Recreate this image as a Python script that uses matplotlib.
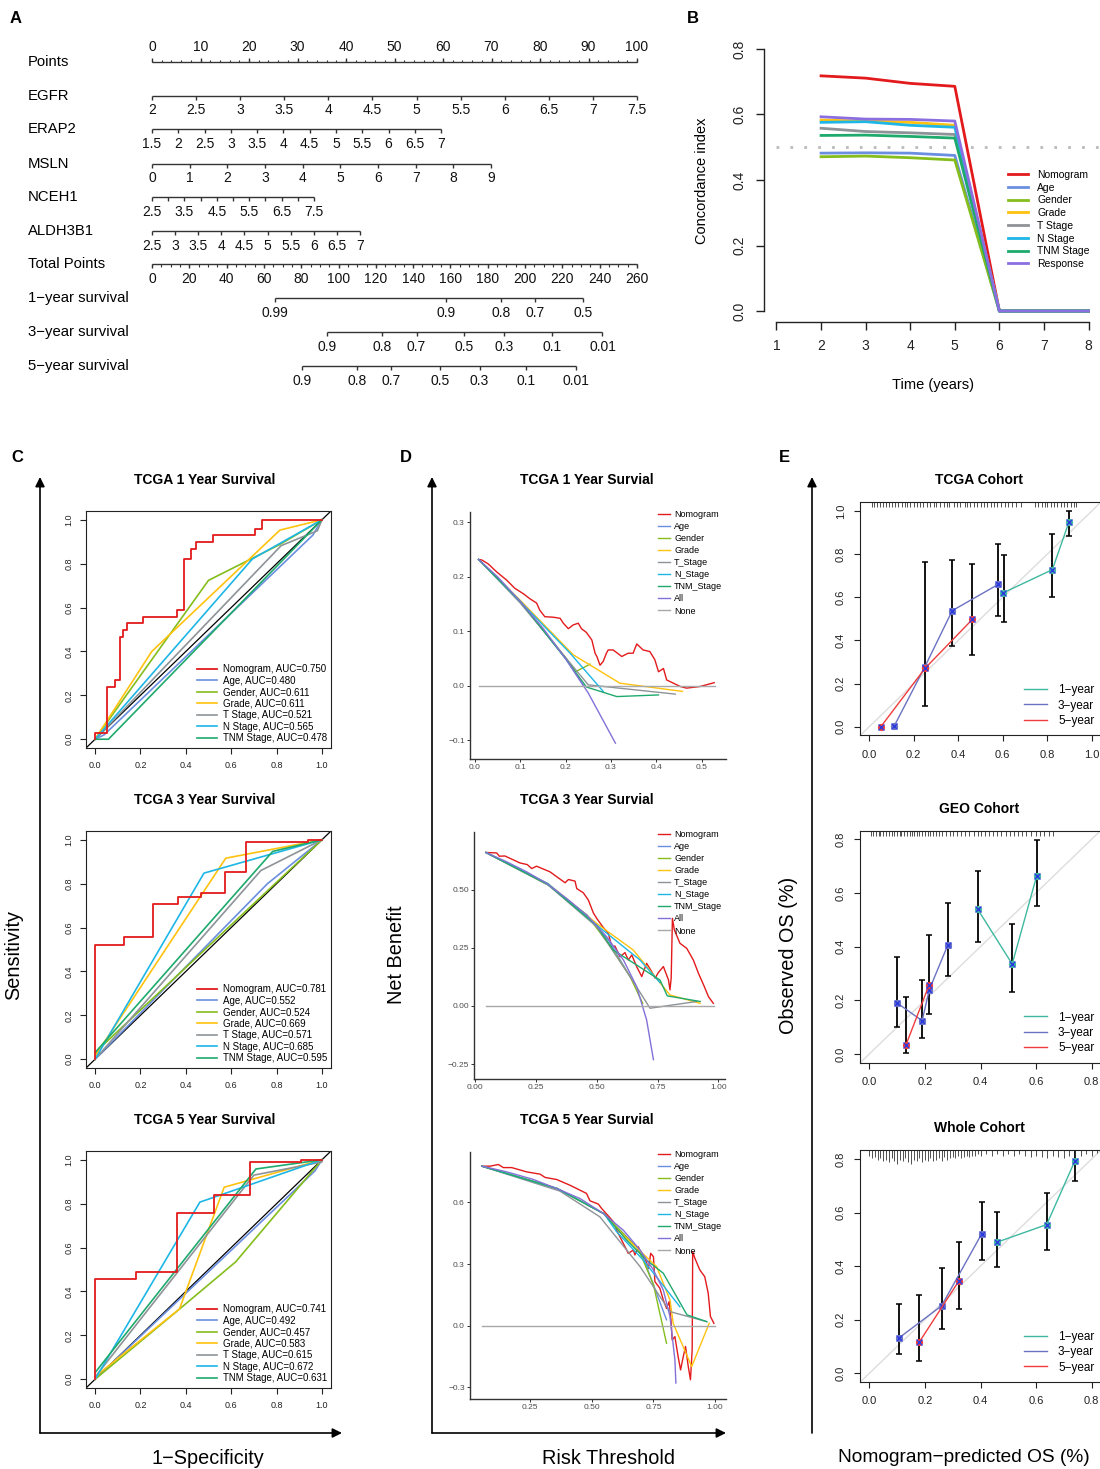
import numpy as np
import matplotlib
matplotlib.use('Agg')
import matplotlib.pyplot as plt
from matplotlib.lines import Line2D

plt.rcParams['font.family'] = ['Liberation Sans', 'DejaVu Sans']

W, H = 1100, 1469

# ---------------- A: nomogram ----------------
points_ticks = list(range(0, 101, 10))
points_minor = list(range(0, 101, 2))
gene_names = ['EGFR', 'ERAP2', 'MSLN', 'NCEH1', 'ALDH3B1']
egfr_vals = [2, 2.5, 3, 3.5, 4, 4.5, 5, 5.5, 6, 6.5, 7, 7.5]
erap2_vals = [1.5, 2, 2.5, 3, 3.5, 4, 4.5, 5, 5.5, 6, 6.5, 7]
msln_vals = [0, 1, 2, 3, 4, 5, 6, 7, 8, 9]
nceh1_vals = [2.5, 3, 3.5, 4, 4.5, 5, 5.5, 6, 6.5, 7, 7.5]
aldh3b1_vals = [2.5, 3, 3.5, 4, 4.5, 5, 5.5, 6, 6.5, 7]
gene_max_points = [100, 59.6, 69.9, 33.4, 42.9]
total_ticks = list(range(0, 261, 20))
total_minor = list(range(0, 261, 5))
surv_names = ['1\u2212year survival', '3\u2212year survival', '5\u2212year survival']
surv1_labels = ['0.99', '0.9', '0.8', '0.7', '0.5']
surv1_total = [65.8, 157.6, 186.9, 205.4, 230.9]
surv3_labels = ['0.9', '0.8', '0.7', '0.5', '0.3', '0.1', '0.01']
surv3_total = [94.0, 123.3, 141.8, 167.5, 188.7, 214.2, 241.5]
surv5_labels = ['0.9', '0.8', '0.7', '0.5', '0.3', '0.1', '0.01']
surv5_total = [80.4, 109.8, 128.2, 154.2, 175.6, 200.4, 227.5]

# ---------------- B: C-index over time ----------------
b_years = [2, 3, 4, 5, 6, 7, 8]
b_names = ['Nomogram', 'Age', 'Gender', 'Grade', 'T Stage', 'N Stage', 'TNM Stage', 'Response']
b_nomogram = [0.718, 0.711, 0.695, 0.686, 0, 0, 0]
b_age = [0.482, 0.483, 0.482, 0.475, 0, 0, 0]
b_gender = [0.471, 0.473, 0.468, 0.461, 0, 0, 0]
b_grade = [0.583, 0.580, 0.576, 0.567, 0, 0, 0]
b_tstage = [0.558, 0.548, 0.544, 0.539, 0, 0, 0]
b_nstage = [0.576, 0.578, 0.567, 0.561, 0, 0, 0]
b_tnm = [0.536, 0.537, 0.533, 0.528, 0, 0, 0]
b_response = [0.593, 0.586, 0.585, 0.580, 0, 0, 0]

RED = '#E31A1C'
b_colors = [RED, '#6A8FE0', '#84BD1C', '#FFC20E', '#8E9398', '#1DB6E6', '#1EAA6C', '#8B6FE0']

# ---------------- C: ROC ----------------
roc_names = ['Nomogram', 'Age', 'Gender', 'Grade', 'T Stage', 'N Stage', 'TNM Stage']
c1_auc = ['0.750', '0.480', '0.611', '0.611', '0.521', '0.565', '0.478']
c2_auc = ['0.781', '0.552', '0.524', '0.669', '0.571', '0.685', '0.595']
c3_auc = ['0.741', '0.492', '0.457', '0.583', '0.615', '0.672', '0.631']

c1_nomo_fpr = [0, 0, 0.052, 0.089, 0.108, 0.123, 0.14, 0.21, 0.359, 0.391, 0.421, 0.443, 0.521, 0.706, 0.736, 1.0]
c1_nomo_tpr = [0, 0.03, 0.237, 0.271, 0.468, 0.498, 0.528, 0.558, 0.591, 0.822, 0.867, 0.897, 0.931, 0.958, 1.0, 1.0]
c1_others = [
    [(0, 0), (0.04, 0.02), (0.96, 0.93), (1, 1)],
    [(0, 0), (0.02, 0.03), (0.5, 0.724), (0.81, 0.885), (1, 1)],
    [(0, 0), (0.25, 0.40), (0.815, 0.953), (1, 1)],
    [(0, 0), (0.02, 0.02), (0.82, 0.882), (0.98, 0.95), (1, 1)],
    [(0, 0), (0.694, 0.822), (1, 1)],
    [(0, 0), (0.059, 0), (1, 1)],
]
c2_nomo_fpr = [0, 0, 0.126, 0.254, 0.366, 0.468, 0.572, 0.665, 0.938, 1.0]
c2_nomo_tpr = [0, 0.52, 0.555, 0.707, 0.738, 0.759, 0.852, 0.988, 1.0, 1.0]
c2_others = [
    [(0, 0), (0.76, 0.80), (1, 1)],
    [(0, 0), (0.01, 0.04), (1, 1)],
    [(0, 0), (0.01, 0.03), (0.576, 0.916), (1, 1)],
    [(0, 0), (0.731, 0.86), (1, 1)],
    [(0, 0), (0.48, 0.848), (1, 1)],
    [(0, 0.03), (0.783, 0.947), (1, 1)],
]
c3_nomo_fpr = [0, 0, 0.182, 0.362, 0.524, 0.684, 0.908, 1.0]
c3_nomo_tpr = [0, 0.457, 0.487, 0.757, 0.84, 0.991, 1.0, 1.0]
c3_others = [
    [(0, 0), (0.97, 0.95), (1, 1)],
    [(0, 0), (0.369, 0.317), (0.62, 0.535), (1, 1)],
    [(0, 0), (0.01, 0.02), (0.372, 0.32), (0.569, 0.875), (1, 1)],
    [(0, 0.01), (0.7, 0.93), (1, 0.99), (1, 1)],
    [(0, 0), (0.462, 0.807), (1, 1)],
    [(0, 0.03), (0.709, 0.958), (1, 1)],
]

# ---------------- D: decision curves ----------------
dca_names = ['Nomogram', 'Age', 'Gender', 'Grade', 'T_Stage', 'N_Stage', 'TNM_Stage', 'All', 'None']
dca_colors = [RED, '#6A8FE0', '#84BD1C', '#FFC20E', '#8E9398', '#1DB6E6', '#1EAA6C', '#8470D8', '#A8A8A8']

d1_curves = [
    [(0.008, 0.232), (0.015, 0.231), (0.029, 0.224), (0.048, 0.209), (0.07, 0.194), (0.088, 0.179),
     (0.107, 0.169), (0.121, 0.160), (0.136, 0.152), (0.143, 0.139), (0.154, 0.127), (0.173, 0.126),
     (0.188, 0.124), (0.195, 0.115), (0.206, 0.105), (0.217, 0.112), (0.228, 0.115), (0.235, 0.105),
     (0.246, 0.098), (0.258, 0.084), (0.265, 0.06), (0.269, 0.054), (0.276, 0.038), (0.283, 0.045),
     (0.29, 0.06), (0.294, 0.066), (0.305, 0.066), (0.324, 0.054), (0.338, 0.06), (0.349, 0.06),
     (0.357, 0.077), (0.371, 0.066), (0.386, 0.063), (0.397, 0.048), (0.405, 0.026), (0.416, 0.032),
     (0.423, 0.011), (0.438, 0.005), (0.453, -0.001), (0.467, -0.004), (0.497, -0.001), (0.528, 0.006)],
    [(0.008, 0.232), (0.1, 0.155), (0.2, 0.05), (0.24, 0.0)],
    [(0.008, 0.232), (0.1, 0.155), (0.2, 0.052), (0.222, 0.026), (0.254, 0.040)],
    [(0.008, 0.232), (0.1, 0.157), (0.217, 0.057), (0.32, 0.005), (0.458, -0.010)],
    [(0.008, 0.232), (0.1, 0.152), (0.2, 0.052), (0.25, 0.002), (0.442, -0.015)],
    [(0.008, 0.232), (0.1, 0.155), (0.21, 0.06), (0.283, -0.010)],
    [(0.008, 0.232), (0.1, 0.155), (0.2, 0.05), (0.246, -0.002), (0.313, -0.0195), (0.405, -0.0165)],
    [(0.008, 0.232), (0.05, 0.2), (0.1, 0.155), (0.15, 0.106), (0.2, 0.05), (0.25, -0.013), (0.31, -0.105)],
    [(0.008, 0.0), (0.53, 0.0)],
]
d2_curves = [
    [(0.045, 0.659), (0.089, 0.657), (0.1, 0.643), (0.123, 0.644), (0.185, 0.614), (0.215, 0.607),
     (0.233, 0.59), (0.253, 0.6), (0.308, 0.576), (0.37, 0.529), (0.384, 0.543), (0.411, 0.536),
     (0.418, 0.504), (0.445, 0.486), (0.466, 0.454), (0.486, 0.4), (0.5, 0.376), (0.527, 0.337),
     (0.548, 0.311), (0.562, 0.254), (0.575, 0.257), (0.596, 0.211), (0.616, 0.229), (0.63, 0.197),
     (0.644, 0.219), (0.664, 0.169), (0.685, 0.126), (0.705, 0.183), (0.726, 0.147), (0.74, 0.119),
     (0.753, 0.143), (0.774, 0.169), (0.795, 0.111), (0.801, 0.069), (0.806, 0.12), (0.811, 0.376),
     (0.819, 0.326), (0.842, 0.269), (0.87, 0.247), (0.897, 0.197), (0.918, 0.14), (0.942, 0.083),
     (0.959, 0.04), (0.979, 0.011)],
    [(0.045, 0.659), (0.3, 0.52), (0.46, 0.39), (0.55, 0.28), (0.64, 0.12)],
    [(0.045, 0.659), (0.3, 0.52), (0.46, 0.39), (0.56, 0.25), (0.637, 0.126), (0.689, 0.011)],
    [(0.045, 0.659), (0.3, 0.525), (0.5, 0.354), (0.65, 0.24), (0.801, 0.047), (0.925, 0.011)],
    [(0.045, 0.659), (0.3, 0.52), (0.5, 0.34), (0.637, 0.126), (0.719, -0.01), (0.911, 0.019)],
    [(0.045, 0.659), (0.3, 0.525), (0.5, 0.347), (0.678, 0.197), (0.76, 0.10)],
    [(0.045, 0.659), (0.3, 0.522), (0.5, 0.345), (0.568, 0.24), (0.76, 0.111), (0.79, 0.043), (0.925, 0.019)],
    [(0.045, 0.659), (0.13, 0.619), (0.212, 0.576), (0.295, 0.526), (0.377, 0.461), (0.459, 0.39),
     (0.541, 0.297), (0.61, 0.197), (0.664, 0.083), (0.705, -0.06), (0.733, -0.231)],
    [(0.045, 0.0), (0.98, 0.0)],
]
d3_curves = [
    [(0.055, 0.777), (0.088, 0.777), (0.122, 0.785), (0.142, 0.77), (0.176, 0.77), (0.237, 0.749),
     (0.291, 0.738), (0.311, 0.722), (0.358, 0.712), (0.412, 0.684), (0.479, 0.644), (0.493, 0.608),
     (0.527, 0.592), (0.54, 0.571), (0.561, 0.543), (0.588, 0.506), (0.601, 0.465), (0.621, 0.417),
     (0.635, 0.384), (0.648, 0.352), (0.669, 0.368), (0.675, 0.344), (0.689, 0.384), (0.703, 0.344),
     (0.716, 0.328), (0.73, 0.279), (0.739, 0.352), (0.75, 0.336), (0.756, 0.214), (0.776, 0.182),
     (0.79, 0.125), (0.803, 0.084), (0.814, 0.117), (0.821, 0.028), (0.826, -0.07), (0.837, -0.054),
     (0.85, -0.151), (0.86, -0.216), (0.871, -0.151), (0.88, -0.102), (0.891, -0.199), (0.9, -0.264),
     (0.907, -0.118), (0.909, 0.36), (0.918, 0.328), (0.938, 0.271), (0.958, 0.238), (0.972, 0.157),
     (0.981, 0.044), (0.995, 0.011)],
    [(0.055, 0.777), (0.36, 0.668), (0.55, 0.545), (0.7, 0.36), (0.803, 0.028)],
    [(0.055, 0.777), (0.36, 0.668), (0.55, 0.545), (0.69, 0.37), (0.75, 0.2), (0.803, -0.086)],
    [(0.055, 0.777), (0.36, 0.668), (0.55, 0.545), (0.621, 0.449), (0.763, 0.287), (0.817, 0.125),
     (0.83, 0.011), (0.905, -0.2), (0.976, 0.011)],
    [(0.055, 0.777), (0.372, 0.655), (0.533, 0.53), (0.696, 0.287), (0.817, 0.068), (0.966, 0.019)],
    [(0.055, 0.777), (0.36, 0.668), (0.55, 0.545), (0.601, 0.457), (0.709, 0.319), (0.857, 0.092)],
    [(0.055, 0.777), (0.36, 0.668), (0.55, 0.545), (0.641, 0.417), (0.722, 0.319), (0.79, 0.255),
     (0.886, 0.052), (0.966, 0.019)],
    [(0.055, 0.777), (0.156, 0.749), (0.264, 0.712), (0.358, 0.668), (0.453, 0.619), (0.547, 0.546),
     (0.628, 0.465), (0.696, 0.368), (0.75, 0.271), (0.79, 0.173), (0.817, 0.044), (0.837, -0.167),
     (0.841, -0.28)],
    [(0.055, 0.0), (1.0, 0.0)],
]

# ---------------- E: calibration ----------------
cal_names = ['1\u2212year', '3\u2212year', '5\u2212year']
cal_colors = ['#3EB8A0', '#6B72C2', '#F03C3C']
e1_1y = [(0.603, 0.621), (0.823, 0.728), (0.897, 0.947)]
e1_3y = [(0.112, 0.003), (0.25, 0.278), (0.373, 0.538), (0.58, 0.66)]
e1_5y = [(0.052, 0.0), (0.25, 0.27), (0.463, 0.497)]
e1_err_x = [0.25, 0.373, 0.463, 0.58, 0.605, 0.823, 0.897]
e1_err_lo = [0.096, 0.376, 0.332, 0.513, 0.487, 0.603, 0.884]
e1_err_hi = [0.765, 0.773, 0.753, 0.847, 0.794, 0.893, 1.0]
e1_rug = [0.01, 0.02, 0.035, 0.05, 0.06, 0.075, 0.09, 0.1, 0.115, 0.13, 0.145, 0.16, 0.17, 0.185, 0.2,
          0.215, 0.23, 0.24, 0.26, 0.275, 0.29, 0.3, 0.32, 0.335, 0.35, 0.36, 0.38, 0.395, 0.41, 0.43,
          0.44, 0.455, 0.47, 0.485, 0.5, 0.515, 0.53, 0.545, 0.56, 0.575, 0.59, 0.61, 0.625, 0.64, 0.66,
          0.68, 0.745, 0.76, 0.775, 0.79, 0.8, 0.815, 0.83, 0.845, 0.86, 0.875, 0.89, 0.905, 0.92, 0.93]

e2_1y = [(0.39, 0.539), (0.514, 0.335), (0.602, 0.663)]
e2_3y = [(0.10, 0.19), (0.19, 0.124), (0.216, 0.24), (0.282, 0.405)]
e2_5y = [(0.132, 0.034), (0.215, 0.257)]
e2_err_x = [0.10, 0.132, 0.19, 0.215, 0.282, 0.39, 0.514, 0.602]
e2_err_lo = [0.099, 0.005, 0.061, 0.149, 0.291, 0.416, 0.231, 0.553]
e2_err_hi = [0.36, 0.211, 0.276, 0.443, 0.564, 0.683, 0.484, 0.797]
e2_rug = [0.005, 0.015, 0.025, 0.035, 0.04, 0.05, 0.06, 0.07, 0.08, 0.09, 0.1, 0.11, 0.115, 0.125,
          0.135, 0.145, 0.155, 0.16, 0.17, 0.18, 0.19, 0.2, 0.21, 0.22, 0.23, 0.24, 0.25, 0.26, 0.275,
          0.29, 0.3, 0.315, 0.33, 0.345, 0.36, 0.375, 0.39, 0.4, 0.415, 0.43, 0.445, 0.46, 0.475, 0.49,
          0.505, 0.52, 0.535, 0.55, 0.565, 0.58, 0.6, 0.615, 0.63, 0.645, 0.66]

e3_1y = [(0.458, 0.489), (0.638, 0.555), (0.74, 0.794)]
e3_3y = [(0.108, 0.133), (0.26, 0.252), (0.404, 0.52)]
e3_5y = [(0.18, 0.117), (0.321, 0.343)]
e3_err_x = [0.108, 0.18, 0.26, 0.321, 0.404, 0.458, 0.638, 0.74]
e3_err_lo = [0.071, 0.046, 0.165, 0.239, 0.422, 0.398, 0.46, 0.719]
e3_err_hi = [0.2575, 0.292, 0.392, 0.489, 0.64, 0.601, 0.672, 0.832]
e3_rug_x = [0.0, 0.01, 0.02, 0.03, 0.04, 0.05, 0.06, 0.07, 0.08, 0.09, 0.1, 0.11, 0.12, 0.13, 0.14,
            0.15, 0.16, 0.17, 0.18, 0.19, 0.2, 0.21, 0.22, 0.23, 0.24, 0.25, 0.26, 0.27, 0.28, 0.29,
            0.3, 0.31, 0.32, 0.33, 0.34, 0.35, 0.36, 0.37, 0.38, 0.39, 0.4, 0.42, 0.44, 0.46, 0.48,
            0.5, 0.52, 0.54, 0.56, 0.58, 0.6, 0.62, 0.64, 0.66, 0.68, 0.7, 0.72, 0.74, 0.76, 0.78,
            0.8, 0.82, 0.84]
e3_rug_h = [0.02, 0.03, 0.025, 0.035, 0.03, 0.04, 0.035, 0.045, 0.03, 0.04, 0.05, 0.035, 0.04, 0.03,
            0.045, 0.05, 0.035, 0.04, 0.03, 0.045, 0.035, 0.04, 0.03, 0.04, 0.035, 0.03, 0.04, 0.025,
            0.035, 0.03, 0.025, 0.03, 0.02, 0.03, 0.025, 0.02, 0.025, 0.02, 0.02, 0.015, 0.02, 0.015,
            0.02, 0.015, 0.02, 0.015, 0.02, 0.015, 0.02, 0.025, 0.02, 0.025, 0.03, 0.02, 0.025, 0.03,
            0.02, 0.025, 0.02, 0.015, 0.02, 0.01, 0.01]


def px_box(l, t, r, b):
    return [l / W, 1 - b / H, (r - l) / W, (b - t) / H]


def xy(pairs):
    a = np.array(pairs, dtype=float)
    return a[:, 0], a[:, 1]


def r_style(ax, xt, xl, yt, yl, fs, length, pad, lw=0.8):
    ax.set_xticks(xt)
    ax.set_xticklabels(xl, fontsize=fs)
    ax.set_yticks(yt)
    ax.set_yticklabels(yl, fontsize=fs, rotation=90, va='center')
    ax.tick_params(direction='out', length=length, width=lw, pad=pad, colors='#222222')
    for s in ax.spines.values():
        s.set_linewidth(lw)
        s.set_color('#222222')


fig = plt.figure(figsize=(W / 100, H / 100), dpi=100)
ov = fig.add_axes([0, 0, 1, 1])
ov.set_xlim(0, W)
ov.set_ylim(H, 0)
ov.axis('off')

# panel letters
for lab, (x, y) in zip('ABCDE', [(16, 18), (693, 18), (17, 457), (406, 457), (784, 457)]):
    ov.text(x, y, lab, fontsize=12, fontweight='bold', ha='center', va='center')

# ---------- A ----------
ax = fig.add_axes(px_box(0, 30, 660, 400))
ppx = 100 / 485.0
ax.set_xlim(-152 * ppx, (660 - 152) * ppx)
ax.set_ylim(400, 30)
ax.axis('off')
lc = '#333333'
label_x = (28 - 152) * ppx


def scale_row(y, pos, labels, minor=None, up=False):
    s = -1 if up else 1
    ax.plot([pos[0], pos[-1]], [y, y], color=lc, lw=1.0, solid_capstyle='butt')
    ax.vlines(pos, y, y + s * 4, color=lc, lw=1.0)
    if minor is not None:
        ax.vlines(minor, y, y + s * 2.5, color=lc, lw=0.8)
    for p, t in zip(pos, labels):
        if t:
            ax.text(p, y + s * 15, t, ha='center', va='center', fontsize=10, color='#111111')


row_y = [62, 95.5, 129.3, 163.5, 197, 231, 264.3, 298, 332, 366]
ax.text(label_x, row_y[0], 'Points', ha='left', va='center', fontsize=10.7)
scale_row(row_y[0], points_ticks, [str(v) for v in points_ticks], minor=points_minor, up=True)

gene_vals = [egfr_vals, erap2_vals, msln_vals, nceh1_vals, aldh3b1_vals]
for i, (name, vals, mp) in enumerate(zip(gene_names, gene_vals, gene_max_points)):
    y = row_y[1 + i]
    pos = [(v - vals[0]) / (vals[-1] - vals[0]) * mp for v in vals]
    if name == 'NCEH1':
        labs = [f'{v:g}' if (v * 2) % 2 == 1 else '' for v in vals]
    else:
        labs = [f'{v:g}' for v in vals]
    ax.text(label_x, y, name, ha='left', va='center', fontsize=10.7)
    scale_row(y, pos, labs)

ax.text(label_x, row_y[6], 'Total Points', ha='left', va='center', fontsize=10.7)
scale_row(row_y[6], [t * 100 / 260 for t in total_ticks], [str(t) for t in total_ticks],
          minor=[t * 100 / 260 for t in total_minor])
for name, labs, tot, y in zip(surv_names, [surv1_labels, surv3_labels, surv5_labels],
                              [surv1_total, surv3_total, surv5_total], row_y[7:]):
    ax.text(label_x, y, name, ha='left', va='center', fontsize=10.7)
    scale_row(y, [t * 100 / 260 for t in tot], labs)

# ---------- B ----------
ax = fig.add_axes(px_box(764, 38.5, 1101, 321.5))
b_series = [b_nomogram, b_age, b_gender, b_grade, b_tstage, b_nstage, b_tnm, b_response]
ax.plot([1, 8.3], [0.5, 0.5], color='#BBBBBB', lw=2, linestyle=(0, (1, 4)))
for vals, col in zip(b_series, b_colors):
    ax.plot(b_years, vals, color=col, lw=2)
ax.set_xlim(0.72, 8.28)
ax.set_ylim(-0.032, 0.832)
for s in ['top', 'right']:
    ax.spines[s].set_visible(False)
ax.spines['left'].set_bounds(0, 0.8)
ax.spines['bottom'].set_bounds(1, 8)
r_style(ax, [1, 2, 3, 4, 5, 6, 7, 8], [str(v) for v in range(1, 9)],
        [0, 0.2, 0.4, 0.6, 0.8], ['0.0', '0.2', '0.4', '0.6', '0.8'], 10, 5.5, 7, lw=1.0)
handles = [Line2D([], [], color=c, lw=2) for c in b_colors]
ax.legend(handles, b_names, loc='upper left', bbox_to_anchor=(1008 / W, 1 - 170 / H),
          bbox_transform=fig.transFigure, frameon=False, fontsize=7.5, handlelength=1.9,
          handletextpad=0.9, labelspacing=0.26, borderpad=0, borderaxespad=0)
ov.text(702, 181, 'Concordance index', rotation=90, ha='center', va='center', fontsize=10.5)
ov.text(933, 385, 'Time (years)', ha='center', va='center', fontsize=10.5)

# ---------- C ----------
c_tops = [511, 831, 1151]
c_titles = ['TCGA 1 Year Survival', 'TCGA 3 Year Survival', 'TCGA 5 Year Survival']
c_sets = [(c1_nomo_fpr, c1_nomo_tpr, c1_others, c1_auc),
          (c2_nomo_fpr, c2_nomo_tpr, c2_others, c2_auc),
          (c3_nomo_fpr, c3_nomo_tpr, c3_others, c3_auc)]
ticks01 = [0, 0.2, 0.4, 0.6, 0.8, 1.0]
tl01 = ['0.0', '0.2', '0.4', '0.6', '0.8', '1.0']
for top, title, (nf, nt, others, aucs) in zip(c_tops, c_titles, c_sets):
    ax = fig.add_axes(px_box(86, top, 331, top + 237))
    ax.plot([-0.04, 1.04], [-0.04, 1.04], color='black', lw=0.9)
    lines = []
    for pairs, col in zip(others, b_colors[1:7]):
        x, y = xy(pairs)
        lines.append(ax.plot(x, y, color=col, lw=1.2)[0])
    red = ax.plot(nf, nt, color=RED, lw=1.3, drawstyle='steps-post')[0]
    ax.set_xlim(-0.04, 1.04)
    ax.set_ylim(-0.04, 1.04)
    r_style(ax, ticks01, tl01, ticks01, tl01, 6.5, 4, 5)
    labels = [f'{n}, AUC={a}' for n, a in zip(roc_names, aucs)]
    ax.legend([red] + lines, labels, loc='upper left',
              bbox_to_anchor=(197 / W, 1 - (top + 153) / H), bbox_transform=fig.transFigure,
              frameon=False, fontsize=7, handlelength=2.05, handletextpad=0.6, labelspacing=0.16,
              borderpad=0, borderaxespad=0)
    ov.text(205, top - 31, title, ha='center', va='center', fontsize=10, fontweight='bold')

# ---------- D ----------
d_boxes = [(470, 512, 726, 759), (474, 832, 725, 1079), (470, 1152, 726, 1399)]
d_lims = [((-0.011, 0.554), (-0.134, 0.319)), ((-0.004, 1.027), (-0.314, 0.747)),
          ((0.007, 1.044), (-0.358, 0.846))]
d_xt = [([0, 0.1, 0.2, 0.3, 0.4, 0.5], ['0.0', '0.1', '0.2', '0.3', '0.4', '0.5']),
        ([0, 0.25, 0.5, 0.75, 1.0], ['0.00', '0.25', '0.50', '0.75', '1.00']),
        ([0.25, 0.5, 0.75, 1.0], ['0.25', '0.50', '0.75', '1.00'])]
d_yt = [([-0.1, 0, 0.1, 0.2, 0.3], ['\u22120.1', '0.0', '0.1', '0.2', '0.3']),
        ([-0.25, 0, 0.25, 0.5], ['\u22120.25', '0.00', '0.25', '0.50']),
        ([-0.3, 0, 0.3, 0.6], ['\u22120.3', '0.0', '0.3', '0.6'])]
d_titles = ['TCGA 1 Year Survial', 'TCGA 3 Year Survial', 'TCGA 5 Year Survial']
for (l, t, r, b), lims, xt, yt, title, curves in zip(d_boxes, d_lims, d_xt, d_yt, d_titles,
                                                      [d1_curves, d2_curves, d3_curves]):
    ax = fig.add_axes(px_box(l, t, r, b))
    hs = []
    for pairs, col in zip(curves, dca_colors):
        x, y = xy(pairs)
        hs.append(ax.plot(x, y, color=col, lw=1.0)[0])
    ax.set_xlim(*lims[0])
    ax.set_ylim(*lims[1])
    for s in ['top', 'right']:
        ax.spines[s].set_visible(False)
    for s in ['left', 'bottom']:
        ax.spines[s].set_linewidth(1.0)
        ax.spines[s].set_color('#333333')
    ax.set_xticks(xt[0])
    ax.set_xticklabels(xt[1], fontsize=6, color='#4D4D4D')
    ax.set_yticks(yt[0])
    ax.set_yticklabels(yt[1], fontsize=6, color='#4D4D4D')
    ax.tick_params(length=2.2, width=0.7, color='#333333', pad=1.5)
    ax.legend(hs, dca_names, loc='upper left', bbox_to_anchor=(658 / W, 1 - (t - 2) / H),
              bbox_transform=fig.transFigure, frameon=False, fontsize=6.5, handlelength=1.35,
              handletextpad=0.45, labelspacing=0.34, borderpad=0, borderaxespad=0)
    ov.text(587, t - 32, title, ha='center', va='center', fontsize=10, fontweight='bold')

# ---------- E ----------
e_boxes = [(860.4, 502.4, 1100.6, 735.3), (860.4, 830.6, 1100.6, 1062.6), (860.4, 1150.4, 1100.6, 1381.9)]
e_lims = [(-0.04, 1.04), (-0.032, 0.832), (-0.032, 0.832)]
e_ticks = [(ticks01, tl01), ([0, 0.2, 0.4, 0.6, 0.8], ['0.0', '0.2', '0.4', '0.6', '0.8']),
           ([0, 0.2, 0.4, 0.6, 0.8], ['0.0', '0.2', '0.4', '0.6', '0.8'])]
e_titles = ['TCGA Cohort', 'GEO Cohort', 'Whole Cohort']
e_series = [(e1_1y, e1_3y, e1_5y), (e2_1y, e2_3y, e2_5y), (e3_1y, e3_3y, e3_5y)]
e_errs = [(e1_err_x, e1_err_lo, e1_err_hi), (e2_err_x, e2_err_lo, e2_err_hi),
          (e3_err_x, e3_err_lo, e3_err_hi)]
e_rugs = [(e1_rug, [0.022] * len(e1_rug)), (e2_rug, [0.02] * len(e2_rug)),
          (e3_rug_x, e3_rug_h)]
for (l, t, r, b), lim, tk, title, series, errs, rug in zip(e_boxes, e_lims, e_ticks, e_titles,
                                                          e_series, e_errs, e_rugs):
    ax = fig.add_axes(px_box(l, t, r, b))
    ax.plot([lim[0], lim[1]], [lim[0], lim[1]], color='#DDDDDD', lw=1.0)
    ex, lo, hi = (np.array(v, dtype=float) for v in errs)
    ax.errorbar(ex, lo, yerr=[np.zeros_like(lo), hi - lo], fmt='none', ecolor='black',
                elinewidth=1.3, capsize=2.2, capthick=1.1)
    hs = []
    for pairs, col in zip(series, cal_colors):
        x, y = xy(pairs)
        hs.append(ax.plot(x, y, color=col, lw=1.0)[0])
        ax.plot(x, y, linestyle='none', marker='o', markersize=4.2, color=col)
        ax.plot(x, y, linestyle='none', marker='x', markersize=5, color='#2C3BE0', mew=1.0)
    rx, rh = rug
    ax.vlines(rx, lim[1] - np.array(rh), lim[1], color='#333333', lw=0.6)
    ax.set_xlim(*lim)
    ax.set_ylim(*lim)
    r_style(ax, tk[0], tk[1], tk[0], tk[1], 8, 4.3, 6)
    ax.legend(hs, cal_names, loc='upper left', bbox_to_anchor=(1024 / W, 1 - (b - 51) / H),
              bbox_transform=fig.transFigure, frameon=False, fontsize=8.5, handlelength=1.95,
              handletextpad=0.93, labelspacing=0.28, borderpad=0, borderaxespad=0)
    ov.text(979, t - 22, title, ha='center', va='center', fontsize=10, fontweight='bold')

# ---------- big axes arrows and labels ----------
arrow = dict(arrowstyle='-|>', color='black', lw=1.2, mutation_scale=14, shrinkA=0, shrinkB=0)
for x0, x1 in [(40, 342), (432, 726), (812, 1102)]:
    ov.annotate('', xy=(x0, 477), xytext=(x0, 1433), arrowprops=arrow)
    ov.annotate('', xy=(x1, 1433), xytext=(x0, 1433), arrowprops=arrow)
ov.text(14, 955, 'Sensitivity', rotation=90, ha='center', va='center', fontsize=14.3)
ov.text(208, 1458, '1\u2212Specificity', ha='center', va='center', fontsize=14.3)
ov.text(396, 955, 'Net Benefit', rotation=90, ha='center', va='center', fontsize=14.3)
ov.text(608, 1458, 'Risk Threshold', ha='center', va='center', fontsize=14.3)
ov.text(788, 955, 'Observed OS (%)', rotation=90, ha='center', va='center', fontsize=14.3)
ov.text(838, 1458, 'Nomogram\u2212predicted OS (%)', ha='left', va='center', fontsize=13.8)

fig.savefig('out.png', dpi=100)
